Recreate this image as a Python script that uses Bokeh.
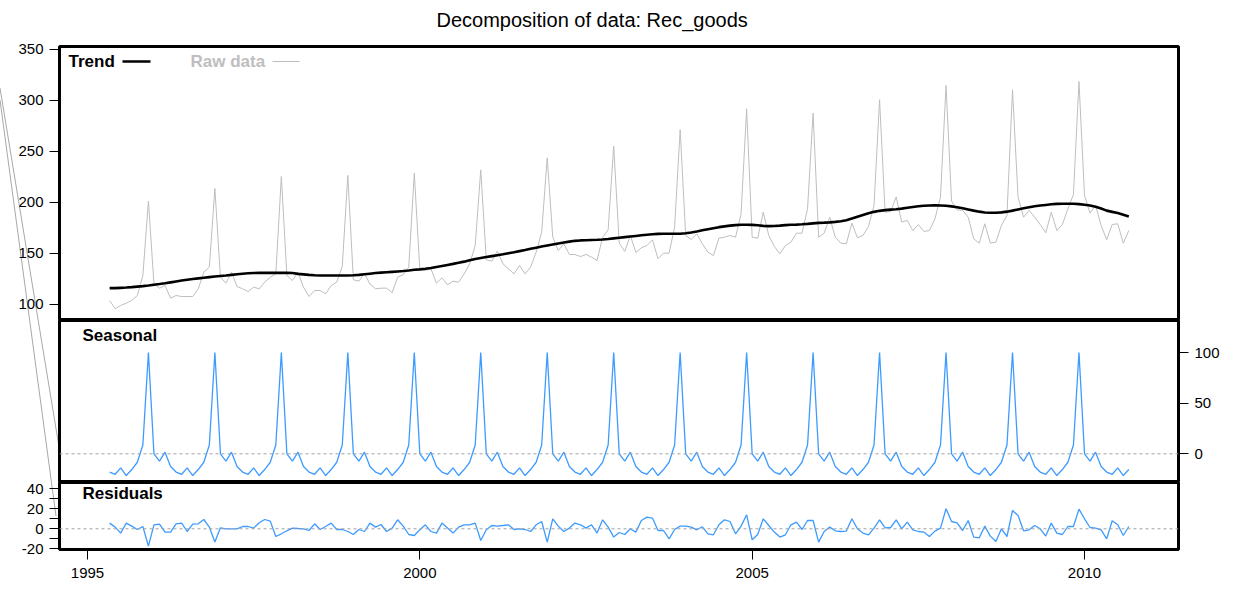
from bokeh.plotting import figure
from bokeh.models import Range1d, FixedTicker, Label, Span, Arrow, ColumnDataSource, Div, Title
from bokeh.layouts import column
from bokeh.embed import file_html
from bokeh.resources import INLINE

# ---------------- data (monthly, May 1995 - Sep 2010) ----------------
START_YEAR = 1995
START_MONTH = 5

raw_data = [
    # 1995 May-Dec
    103.9, 95.8, 99.0, 101.3, 104.0, 108.8, 128.4, 201.3,
    # 1996
    120.3, 116.0, 118.6, 106.2, 108.8, 107.8, 107.8, 107.8, 115.4, 131.7, 136.6, 213.7,
    # 1997
    126.8, 120.9, 131.7, 117.6, 115.4, 112.7, 117.0, 115.4, 121.9, 126.8, 130.0, 225.5,
    # 1998
    128.4, 123.5, 131.7, 117.0, 107.8, 113.7, 113.7, 110.5, 118.6, 121.9, 137.3, 226.5,
    # 1999
    124.2, 122.9, 130.5, 120.0, 115.4, 116.0, 116.0, 111.5, 126.8, 129.1, 136.6, 228.8,
    # 2000
    134.0, 133.3, 135.0, 120.9, 126.1, 119.3, 122.9, 121.9, 130.0, 139.9, 157.8, 232.0,
    # 2001
    143.8, 142.5, 152.3, 139.9, 135.0, 130.0, 138.2, 130.0, 136.6, 151.3, 170.9, 243.8,
    # 2002
    166.0, 152.9, 159.5, 149.0, 149.0, 147.0, 149.0, 146.4, 143.1, 166.0, 173.2, 255.3,
    # 2003
    160.1, 152.0, 167.6, 151.0, 155.6, 157.8, 163.4, 144.8, 150.3, 150.3, 175.8, 271.3,
    # 2004
    167.6, 163.7, 169.3, 159.5, 151.3, 148.0, 165.0, 166.0, 167.6, 166.0, 188.9, 291.8,
    # 2005
    166.0, 165.0, 190.5, 167.6, 156.9, 149.7, 157.8, 161.1, 169.9, 169.9, 193.8, 287.6,
    # 2006
    166.0, 169.9, 185.6, 166.0, 160.1, 159.5, 179.7, 165.4, 167.6, 176.5, 197.1, 300.7,
    # 2007
    190.5, 191.0, 205.5, 180.7, 182.4, 172.5, 178.4, 171.6, 172.5, 184.0, 205.2, 314.7,
    # 2008
    201.3, 192.8, 192.2, 185.6, 164.4, 160.1, 179.1, 160.1, 161.1, 177.5, 187.3, 310.5,
    # 2009
    205.2, 185.6, 192.2, 185.6, 178.4, 170.3, 190.5, 172.5, 178.4, 193.8, 207.8, 318.6,
    # 2010 Jan-Sep
    206.9, 189.5, 197.1, 177.5, 163.4, 178.4, 179.1, 160.1, 172.5,
]

trend = [
    116.0, 116.0, 116.3, 116.6, 117.0, 117.5, 118.0, 118.6,
    119.3, 120.0, 120.8, 121.7, 122.6, 123.5, 124.3, 125.0, 125.6, 126.2, 126.8, 127.4,
    127.9, 128.4, 129.0, 129.6, 130.2, 130.6, 130.8, 131.0, 131.0, 131.0, 131.0, 131.0,
    131.0, 130.8, 130.0, 129.5, 129.0, 128.6, 128.4, 128.4, 128.4, 128.4, 128.4, 128.4,
    128.6, 129.0, 129.6, 130.2, 130.8, 131.2, 131.6, 132.0, 132.4, 132.8, 133.3, 134.0,
    134.4, 135.0, 135.8, 136.8, 137.8, 138.8, 139.8, 140.9, 142.0, 143.3, 144.6, 145.6,
    146.5, 147.4, 148.3, 149.2, 150.2, 151.2, 152.3, 153.4, 154.6, 155.7, 156.8, 157.8,
    158.8, 159.8, 160.7, 161.6, 162.4, 162.8, 163.0, 163.2, 163.4, 163.7, 164.2, 164.8,
    165.4, 166.0, 166.6, 167.2, 167.8, 168.3, 168.8, 169.2, 169.3, 169.3, 169.3, 169.4,
    169.8, 170.6, 171.6, 172.7, 173.8, 174.8, 175.8, 176.6, 177.3, 177.8, 178.1, 178.1,
    178.0, 177.6, 177.1, 176.8, 176.9, 177.3, 177.8, 178.1, 178.3, 178.6, 179.0, 179.5,
    180.0, 180.2, 180.5, 181.0, 181.6, 182.6, 184.2, 186.0, 187.8, 189.4, 190.8, 191.8,
    192.5, 193.0, 193.4, 194.0, 194.8, 195.6, 196.3, 196.8, 197.1, 197.2, 197.1, 196.8,
    196.2, 195.4, 194.4, 193.2, 192.0, 191.0, 190.2, 189.9, 189.9, 190.3, 191.0, 192.0,
    193.2, 194.4, 195.4, 196.3, 197.0, 197.6, 198.2, 198.6, 198.8, 198.8, 198.7, 198.4,
    197.8, 197.0, 195.8, 194.0, 192.0, 190.8, 189.6, 188.0, 186.3,
]

seasonal = [
    -18.0, -20.2, -13.8, -21.4, -15.5, -8.3, 8.7, 100.0,
    0.0, -7.2, 1.6, -12.5, -18.0, -20.2, -13.8, -21.4, -15.5, -8.3, 8.7, 100.0,
    0.0, -7.2, 1.6, -12.5, -18.0, -20.2, -13.8, -21.4, -15.5, -8.3, 8.7, 100.0,
    0.0, -7.2, 1.6, -12.5, -18.0, -20.2, -13.8, -21.4, -15.5, -8.3, 8.7, 100.0,
    0.0, -7.2, 1.6, -12.5, -18.0, -20.2, -13.8, -21.4, -15.5, -8.3, 8.7, 100.0,
    0.0, -7.2, 1.6, -12.5, -18.0, -20.2, -13.8, -21.4, -15.5, -8.3, 8.7, 100.0,
    0.0, -7.2, 1.6, -12.5, -18.0, -20.2, -13.8, -21.4, -15.5, -8.3, 8.7, 100.0,
    0.0, -7.2, 1.6, -12.5, -18.0, -20.2, -13.8, -21.4, -15.5, -8.3, 8.7, 100.0,
    0.0, -7.2, 1.6, -12.5, -18.0, -20.2, -13.8, -21.4, -15.5, -8.3, 8.7, 100.0,
    0.0, -7.2, 1.6, -12.5, -18.0, -20.2, -13.8, -21.4, -15.5, -8.3, 8.7, 100.0,
    0.0, -7.2, 1.6, -12.5, -18.0, -20.2, -13.8, -21.4, -15.5, -8.3, 8.7, 100.0,
    0.0, -7.2, 1.6, -12.5, -18.0, -20.2, -13.8, -21.4, -15.5, -8.3, 8.7, 100.0,
    0.0, -7.2, 1.6, -12.5, -18.0, -20.2, -13.8, -21.4, -15.5, -8.3, 8.7, 100.0,
    0.0, -7.2, 1.6, -12.5, -18.0, -20.2, -13.8, -21.4, -15.5, -8.3, 8.7, 100.0,
    0.0, -7.2, 1.6, -12.5, -18.0, -20.2, -13.8, -21.4, -15.5, -8.3, 8.7, 100.0,
    0.0, -7.2, 1.6, -12.5, -18.0, -20.2, -13.8, -21.4, -15.5,
]

residuals = [
    5.7, 1.7, -4.3, 5.7, 2.7, -0.7, 2.3, -17.3,
    4.0, 4.7, -3.3, -3.3, 5.0, 5.7, -2.7, 4.7, 5.0, 9.3, 1.7, -13.3,
    1.0, 0.0, 0.0, 0.0, 2.3, 2.3, 0.7, 6.0, 9.3, 7.7, -7.7, -5.0,
    -2.0, 0.7, 0.3, 0.0, -1.7, 5.0, -0.7, 2.3, 5.7, -0.7, -0.7, -2.7,
    -5.7, -0.7, -2.7, 5.7, 1.7, 4.3, -2.7, 0.7, 9.0, 2.7, -5.7, -6.7,
    -1.0, 4.0, -2.7, -4.3, 5.7, 0.7, -4.3, 1.7, 4.0, 4.0, 5.7, -11.7,
    -1.0, 3.3, 2.7, 3.3, 4.0, -0.7, 0.0, -0.7, -2.7, 4.0, 7.3, -13.3,
    10.0, 2.7, -2.7, 0.7, 5.7, 4.0, 0.7, 4.0, -4.3, 9.0, 1.7, -8.3,
    -3.7, -5.7, 0.0, -3.3, 8.3, 11.7, 10.7, -1.7, -1.7, -10.0, -0.7, 2.7,
    2.7, 1.7, -1.0, 2.0, -5.0, -6.0, 4.0, 9.0, 7.3, -5.0, 2.7, 14.0,
    -11.0, -5.7, 10.0, 3.3, -3.3, -8.3, -6.0, 4.0, 6.7, -0.7, 8.3, 8.3,
    -13.3, -2.7, 1.7, -2.0, -2.7, -2.3, 10.0, 0.0, -4.3, -6.0, 0.7, 9.0,
    1.0, 1.3, 9.0, 0.0, 6.7, -1.0, -2.7, -3.3, -7.7, -2.3, 0.7, 20.0,
    7.3, 6.0, -1.7, 8.3, -8.3, -9.0, 2.7, -7.3, -12.7, 0.0, -7.7, 18.3,
    13.3, -2.0, -1.0, 3.3, 0.0, -7.3, 5.7, -4.3, -5.7, 2.3, 2.3, 19.7,
    10.0, 1.3, 0.7, -1.0, -10.0, 8.0, 4.0, -6.7, 2.3,
]

top_ticks = [100, 150, 200, 250, 300, 350]
seasonal_ticks = [0, 50, 100]
resid_ticks = [-20, -10, 0, 10, 20, 30, 40]
resid_labels = {-20: "-20", -10: "", 0: "0", 10: "", 20: "20", 30: "", 40: "40"}
year_ticks = [1995, 2000, 2005, 2010]

TITLE = "Decomposition of data: Rec_goods"

# time axis (R ts convention: year + (month-1)/12)
time = [START_YEAR + (START_MONTH - 1 + i) / 12 for i in range(len(raw_data))]

src = ColumnDataSource(dict(t=time, raw=raw_data, trend=trend,
                            seas=seasonal, res=residuals))

# ---------------- geometry / style ----------------
FONT = "Liberation Sans"
W = 1241
FRAME_L, FRAME_R = 59, 1178
X0, X1 = 1994.579, 2011.414
BLUE = "#3D9BFF"
GREY = "#BEBEBE"
BOT_OVERLAP = 10
TOP_SHIFT = 12

xr = Range1d(X0, X1)

PANELS = {
    "top": dict(ptop=46, pbot=320, y0=84.3, y1=352.9),
    "mid": dict(ptop=320, pbot=482, y0=-28.3, y1=131.6),
    "bot": dict(ptop=482, pbot=549, y0=-20.7, y1=46.3),
}


def px_to_x(px):
    return X0 + (px - FRAME_L) * (X1 - X0) / (FRAME_R - FRAME_L)


def py_to_y(py, panel):
    d = PANELS[panel]
    return d["y1"] - (py - d["ptop"]) * (d["y1"] - d["y0"]) / (d["pbot"] - d["ptop"])


def make_fig(height, panel, btop, bbot, yloc, xloc):
    d = PANELS[panel]
    p = figure(width=W, height=height, x_range=xr, y_range=Range1d(d["y0"], d["y1"]),
               output_backend="svg", toolbar_location=None,
               x_axis_location=xloc, y_axis_location=yloc,
               min_border_left=FRAME_L, min_border_right=W - FRAME_R,
               min_border_top=btop, min_border_bottom=bbot)
    p.grid.visible = False
    p.outline_line_color = "black"
    p.outline_line_width = 3
    p.outline_line_alpha = 1.0
    p.background_fill_color = "white"
    p.border_fill_alpha = 0.0
    return p


def style_axis(ax, ticks, standoff):
    ax.ticker = FixedTicker(ticks=ticks)
    ax.axis_line_color = None
    ax.major_tick_out = 10
    ax.major_tick_in = 0
    ax.major_tick_line_width = 1
    ax.minor_tick_line_color = None
    ax.major_label_text_font = FONT
    ax.major_label_text_font_size = "15px"
    ax.major_label_text_color = "black"
    ax.major_label_standoff = standoff
    ax.major_label_orientation = "horizontal"


def add_text(p, panel, text, px, py, color="black"):
    p.add_layout(Label(x=px_to_x(px), y=py_to_y(py, panel), text=text,
                       text_font=FONT, text_font_size="17px", text_font_style="bold",
                       text_color=color, text_baseline="middle", text_align="left"))


def add_key(p, panel, px0, px1, py, color, width):
    p.add_layout(Arrow(end=None, x_start=px_to_x(px0), y_start=py_to_y(py, panel),
                       x_end=px_to_x(px1), y_end=py_to_y(py, panel),
                       line_color=color, line_width=width))


# ---------------- grey guide lines in the left margin (page overlay) ----------------
GUIDE_SVG = (
    '<svg xmlns="http://www.w3.org/2000/svg" width="1241" height="590" '
    'style="position:absolute;left:0;top:0;overflow:visible;pointer-events:none">'
    '<line x1="0" y1="88" x2="60" y2="453" stroke="#A8A8A8" stroke-width="1"/>'
    '<line x1="0" y1="100" x2="56" y2="516" stroke="#A8A8A8" stroke-width="1"/>'
    '</svg>'
)
guide = Div(text=GUIDE_SVG, width=W, height=0, margin=(0, 0, 0, 0),
            styles={"overflow": "visible", "position": "relative"})

# ---------------- top panel: trend + raw ----------------
top = make_fig(320 + TOP_SHIFT, "top", 46 + TOP_SHIFT, 0, "left", None)
top.styles = {"margin-top": "-%dpx" % TOP_SHIFT}
top.title = Title(text=TITLE, align="left", offset=377, standoff=31,
                  text_font=FONT, text_font_size="20px", text_font_style="normal",
                  text_color="black")
style_axis(top.yaxis[0], top_ticks, 6)
top.line("t", "raw", source=src, line_color=GREY, line_width=1)
top.line("t", "trend", source=src, line_color="black", line_width=2.6)
add_text(top, "top", "Trend", 68, 61)
add_key(top, "top", 122, 150, 61, "black", 2.5)
add_text(top, "top", "Raw data", 190, 61, GREY)
add_key(top, "top", 272, 299, 61, GREY, 1)

# ---------------- middle panel: seasonal ----------------
mid = make_fig(162, "mid", 0, 0, "right", None)
style_axis(mid.yaxis[0], seasonal_ticks, 6)
mid.add_layout(Span(location=0, dimension="width", line_color="#A0A0A0",
                    line_dash="3 3", line_width=1))
mid.line("t", "seas", source=src, line_color=BLUE, line_width=1.3)
add_text(mid, "mid", "Seasonal", 82, 335)

# ---------------- bottom panel: residuals ----------------
bot = make_fig(108 + BOT_OVERLAP, "bot", BOT_OVERLAP, 41, "left", "below")
bot.styles = {"margin-top": "-%dpx" % BOT_OVERLAP}
style_axis(bot.yaxis[0], resid_ticks, 6)
bot.yaxis[0].major_label_overrides = resid_labels
style_axis(bot.xaxis[0], year_ticks, 8)
bot.add_layout(Span(location=0, dimension="width", line_color="#A0A0A0",
                    line_dash="3 3", line_width=1))
bot.line("t", "res", source=src, line_color=BLUE, line_width=1.3)
add_text(bot, "bot", "Residuals", 82, 493)

layout = column(guide, top, mid, bot, spacing=0)

open("out.html", "w").write(file_html(layout, INLINE))
